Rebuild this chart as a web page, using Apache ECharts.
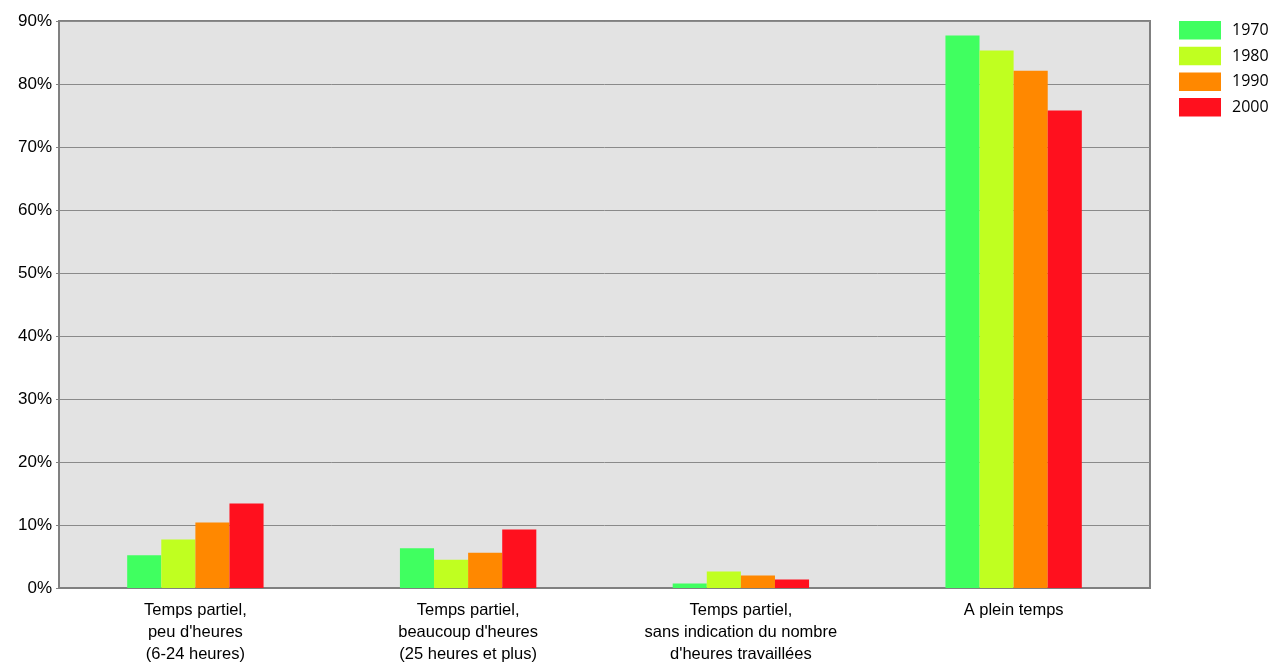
<!DOCTYPE html>
<html><head><meta charset="utf-8">
<script src="https://cdn.jsdelivr.net/npm/echarts@6/dist/echarts.min.js"></script>
<style>html,body{margin:0;padding:0;background:#fff}#c{width:1276px;height:662px}</style>
</head><body><div id="c"></div>
<script>
const categories = ["Temps partiel,\npeu d'heures\n(6-24 heures)", "Temps partiel,\nbeaucoup d'heures\n(25 heures et plus)", "Temps partiel,\nsans indication du nombre\nd'heures travaillées", "A plein temps"];
const years = ["1970", "1980", "1990", "2000"];
const v1970 = [5.2, 6.3, 0.7, 87.7];
const v1980 = [7.7, 4.5, 2.6, 85.3];
const v1990 = [10.4, 5.6, 2.0, 82.1];
const v2000 = [13.4, 9.3, 1.35, 75.8];
const yTicks = [0, 10, 20, 30, 40, 50, 60, 70, 80, 90];
const colors = ["#40FF60", "#C0FF20", "#FF8800", "#FF101E"];
const values = [v1970, v1980, v1990, v2000];

const chart = echarts.init(document.getElementById('c'), null, {renderer: 'canvas'});
chart.setOption({
  animation: false,
  backgroundColor: '#ffffff',
  grid: {left: 59, top: 21, right: 126, bottom: 74, show: true, backgroundColor: '#e3e3e3', borderColor: '#808080', borderWidth: 2, containLabel: false, outerBoundsMode: 'none'},
  legend: {
    left: 1179, top: 21, padding: 0, orient: 'vertical', itemWidth: 42, itemHeight: 18.5, itemGap: 7.2,
    icon: 'rect', data: years,
    textStyle: {fontFamily: 'Open Sans', fontSize: 16, color: '#000', padding: [0, 0, 0, 6]}
  },
  xAxis: {
    type: 'category', data: categories,
    axisLine: {show: true, lineStyle: {color: '#808080', width: 2}},
    axisTick: {show: false},
    axisLabel: {interval: 0, margin: 11, fontFamily: 'Liberation Sans', fontSize: 16.5, color: '#000', lineHeight: 22},
    splitLine: {show: false}
  },
  yAxis: {
    type: 'value', min: 0, max: 90, interval: 10,
    axisLine: {show: true, lineStyle: {color: '#808080', width: 2}},
    axisTick: {show: true, length: 3, lineStyle: {color: '#808080', width: 1}},
    axisLabel: {margin: 7, fontFamily: 'Liberation Sans', fontSize: 17, color: '#000', formatter: v => yTicks.includes(v) ? v + '%' : ''},
    splitLine: {show: true, lineStyle: {color: '#8a8a8a', width: 1}}
  },
  series: years.map((y, i) => ({
    name: y, type: 'bar', data: values[i],
    barGap: '0%', barCategoryGap: '50%',
    itemStyle: {color: colors[i]}
  }))
});
</script></body></html>
